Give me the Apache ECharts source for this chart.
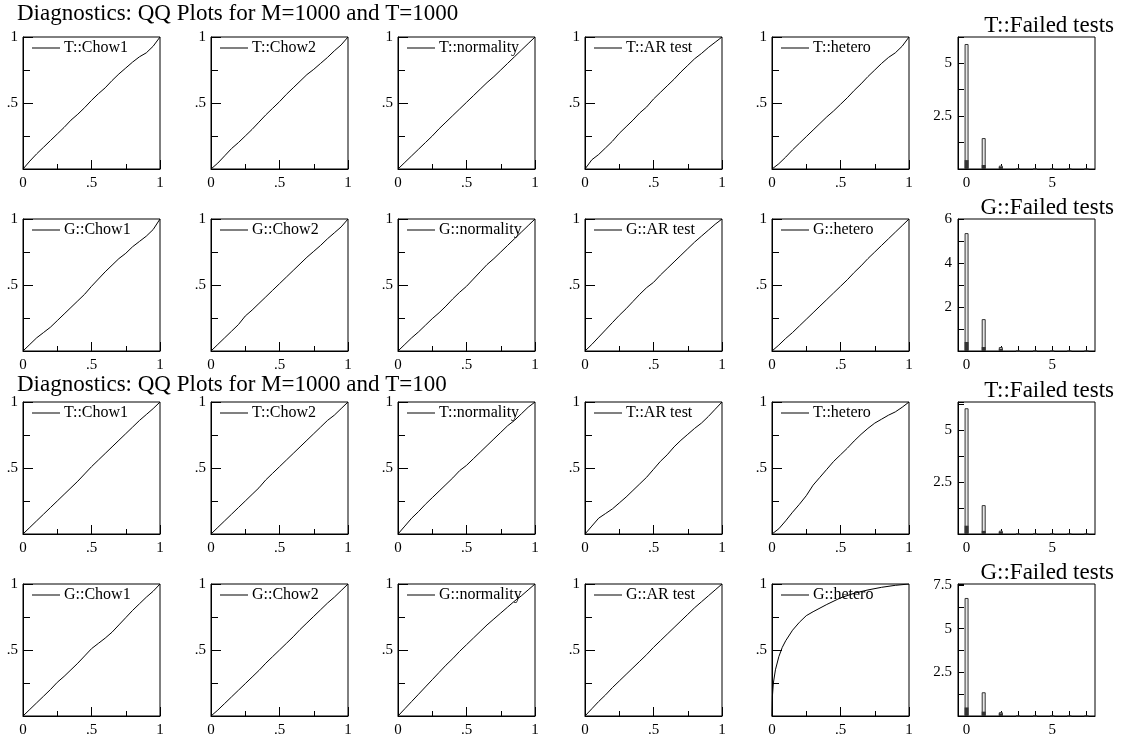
<!DOCTYPE html>
<html>
<head>
<meta charset="utf-8">
<script src="https://cdn.jsdelivr.net/npm/echarts@6/dist/echarts.min.js"></script>
<style>
html,body{margin:0;padding:0;background:#fff;}
#chart{width:1122px;height:740px;}
</style>
</head>
<body>
<div id="chart"></div>
<script>
// ---------- DATA ----------
var pageTitles = ['Diagnostics: QQ Plots for M=1000 and T=1000', 'Diagnostics: QQ Plots for M=1000 and T=100'];
var histTitles = ['T::Failed tests', 'G::Failed tests', 'T::Failed tests', 'G::Failed tests'];
var qqNames = [
  ['T::Chow1', 'T::Chow2', 'T::normality', 'T::AR test', 'T::hetero'],
  ['G::Chow1', 'G::Chow2', 'G::normality', 'G::AR test', 'G::hetero'],
  ['T::Chow1', 'T::Chow2', 'T::normality', 'T::AR test', 'T::hetero'],
  ['G::Chow1', 'G::Chow2', 'G::normality', 'G::AR test', 'G::hetero']
];
var qqProbs = [0, 0.05, 0.1, 0.15, 0.2, 0.25, 0.3, 0.35, 0.4, 0.45, 0.5, 0.55, 0.6, 0.65, 0.7, 0.75, 0.8, 0.85, 0.9, 0.95, 1];

// Row 1: M=1000, T=1000, T:: tests
var r1Chow1  = [0, .06, .115, .165, .215, .265, .315, .37, .415, .465, .52, .57, .615, .67, .72, .765, .81, .85, .88, .93, 1];
var r1Chow2  = [0, .045, .1, .155, .2, .25, .3, .355, .41, .46, .51, .565, .615, .665, .715, .755, .8, .845, .895, .94, 1];
var r1Normal = [0, .05, .1, .15, .2, .25, .305, .355, .405, .455, .505, .555, .605, .655, .7, .75, .8, .85, .9, .95, 1];
var r1AR     = [0, .07, .11, .16, .21, .27, .32, .37, .425, .47, .53, .58, .63, .68, .735, .785, .835, .875, .92, .96, 1];
var r1Hetero = [0, .04, .09, .145, .195, .245, .295, .345, .395, .44, .49, .54, .595, .645, .7, .75, .8, .845, .88, .93, 1];
// Row 2: M=1000, T=1000, G:: tests
var r2Chow1  = [0, .05, .1, .14, .18, .23, .28, .33, .38, .43, .49, .545, .6, .65, .7, .74, .79, .83, .87, .92, 1];
var r2Chow2  = [0, .05, .1, .15, .2, .265, .31, .36, .41, .46, .51, .56, .61, .66, .71, .755, .8, .85, .895, .94, 1];
var r2Normal = [0, .05, .1, .145, .195, .245, .29, .34, .395, .445, .49, .545, .6, .655, .7, .75, .8, .85, .9, .95, 1];
var r2AR     = [0, .05, .105, .16, .215, .27, .32, .375, .43, .48, .52, .575, .625, .675, .725, .775, .825, .87, .915, .96, 1];
var r2Hetero = [0, .045, .095, .14, .19, .24, .29, .34, .39, .44, .49, .54, .595, .645, .7, .75, .8, .85, .9, .95, 1];
// Row 3: M=1000, T=100, T:: tests
var r3Chow1  = [0, .05, .1, .15, .2, .25, .3, .35, .4, .455, .51, .56, .61, .66, .71, .76, .81, .86, .905, .95, 1];
var r3Chow2  = [0, .05, .1, .15, .2, .25, .3, .35, .41, .46, .51, .56, .61, .66, .71, .76, .81, .86, .9, .95, 1];
var r3Normal = [0, .06, .12, .17, .225, .275, .325, .375, .425, .48, .52, .57, .62, .67, .72, .77, .82, .86, .91, .96, 1];
var r3AR     = [0, .06, .12, .155, .19, .235, .28, .33, .38, .43, .49, .55, .6, .66, .71, .755, .8, .84, .89, .945, 1];
var r3Hetero = [0, .04, .1, .165, .225, .29, .37, .43, .49, .55, .6, .65, .705, .755, .8, .84, .87, .9, .925, .96, 1];
// Row 4: M=1000, T=100, G:: tests
var r4Chow1  = [0, .05, .1, .15, .2, .255, .3, .35, .4, .455, .51, .55, .59, .635, .69, .745, .8, .85, .9, .945, 1];
var r4Chow2  = [0, .045, .095, .145, .195, .245, .295, .345, .4, .45, .5, .55, .6, .655, .705, .755, .805, .855, .9, .95, 1];
var r4Normal = [0, .055, .11, .165, .22, .275, .33, .385, .435, .49, .54, .59, .64, .69, .735, .78, .825, .87, .91, .955, 1];
var r4AR     = [0, .055, .11, .16, .215, .265, .315, .365, .415, .465, .52, .57, .62, .67, .72, .77, .82, .865, .91, .955, 1];
var r4HeteroProbs = [0, 0.003, 0.01, 0.025, 0.05, 0.075, 0.1, 0.15, 0.2, 0.25, 0.3, 0.4, 0.5, 0.6, 0.7, 0.8, 0.9, 1];
var r4Hetero      = [0, 0.15, 0.25, 0.35, 0.45, 0.52, 0.57, 0.65, 0.71, 0.76, 0.79, 0.845, 0.895, 0.93, 0.955, 0.975, 0.99, 1];

// Failed tests histograms
var failCats = ['0', '1', '2', '3', '4', '5', '6', '7'];
var failT1 = [5.9, 1.46, 0.16, 0, 0, 0, 0, 0];
var failT1Low = [0.42, 0.19, 0.1, 0, 0, 0, 0, 0];
var failG1 = [5.36, 1.45, 0.18, 0, 0, 0, 0, 0];
var failG1Low = [0.41, 0.18, 0.1, 0, 0, 0, 0, 0];
var failT2 = [6.05, 1.39, 0.16, 0, 0, 0, 0, 0];
var failT2Low = [0.4, 0.15, 0.1, 0, 0, 0, 0, 0];
var failG2 = [6.76, 1.36, 0.22, 0, 0, 0, 0, 0];
var failG2Low = [0.49, 0.25, 0.15, 0, 0, 0, 0, 0];
var histYMax = [6.23, 6, 6.35, 7.56];
var histYStep = [1.25, 1, 1.25, 1.25];
var histYLabelStep = [2.5, 2, 2.5, 2.5];

// ---------- LAYOUT ----------
var colLeft = [23, 211, 398, 585, 772, 958];
var rowTop = [37, 219, 402, 584];
var boxW = 137, boxH = 132;
var FONT = 'Liberation Serif';
var TICKFS = 15;

var qqRows = [
  [r1Chow1, r1Chow2, r1Normal, r1AR, r1Hetero],
  [r2Chow1, r2Chow2, r2Normal, r2AR, r2Hetero],
  [r3Chow1, r3Chow2, r3Normal, r3AR, r3Hetero],
  [r4Chow1, r4Chow2, r4Normal, r4AR, r4Hetero]
];
var histRows = [[failT1, failT1Low], [failG1, failG1Low], [failT2, failT2Low], [failG2, failG2Low]];

var grids = [], xAxes = [], yAxes = [], series = [], legends = [], titles = [];

function fmtQQ(v) {
  if (Math.abs(v - 0.5) < 1e-9) return '.5';
  if (Math.abs(v - 1) < 1e-9) return '1';
  if (Math.abs(v) < 1e-9) return '0';
  return '';
}

var gi = 0;
for (var r = 0; r < 4; r++) {
  for (var c = 0; c < 6; c++) {
    grids.push({
      left: colLeft[c], top: rowTop[r], width: boxW, height: boxH,
      show: true, borderColor: '#000', borderWidth: 1, backgroundColor: 'transparent'
    });
    if (c < 5) {
      xAxes.push({
        gridIndex: gi, type: 'value', min: 0, max: 1, interval: 0.5,
        axisLine: {show: true, onZero: false, lineStyle: {color: '#000', width: 1}},
        axisTick: {show: true, inside: true, length: 9, lineStyle: {color: '#000'}},
        minorTick: {show: true, splitNumber: 2, length: 5, lineStyle: {color: '#000'}},
        splitLine: {show: false},
        axisLabel: {color: '#000', fontFamily: FONT, fontSize: TICKFS, margin: 7, formatter: fmtQQ}
      });
      yAxes.push({
        gridIndex: gi, type: 'value', min: 0, max: 1, interval: 0.5,
        axisLine: {show: true, onZero: false, lineStyle: {color: '#000', width: 1}},
        axisTick: {show: true, inside: true, length: 10, lineStyle: {color: '#000'}},
        minorTick: {show: true, splitNumber: 2, length: 7, lineStyle: {color: '#000'}},
        splitLine: {show: false},
        axisLabel: {color: '#000', fontFamily: FONT, fontSize: TICKFS, margin: 5,
          formatter: function (v) { return v === 0 ? '' : fmtQQ(v); }}
      });
      var probs = (r === 3 && c === 4) ? r4HeteroProbs : qqProbs;
      var ys = qqRows[r][c];
      series.push({
        name: qqNames[r][c], type: 'line', xAxisIndex: gi, yAxisIndex: gi,
        showSymbol: false, symbol: 'none', color: '#000',
        lineStyle: {color: '#000', width: 1}, animation: false, silent: true,
        data: probs.map(function (p, i) { return [p, ys[i]]; })
      });
      legends.push({
        data: [qqNames[r][c]], left: colLeft[c] + 9, top: rowTop[r] + 3,
        icon: 'rect', itemWidth: 28, itemHeight: 1, itemGap: 4, padding: 0,
        selectedMode: false,
        textStyle: {fontFamily: FONT, fontSize: 16, color: '#000', padding: [0, 0, 0, -1]}
      });
    } else {
      var step = histYStep[r], lstep = histYLabelStep[r];
      xAxes.push({
        gridIndex: gi, type: 'category', data: failCats, boundaryGap: true,
        axisLine: {show: true, onZero: false, lineStyle: {color: '#000', width: 1}},
        axisTick: {show: true, inside: true, length: 5, alignWithLabel: true, interval: 0, lineStyle: {color: '#000'}},
        splitLine: {show: false},
        axisLabel: {color: '#000', fontFamily: FONT, fontSize: TICKFS, margin: 7, interval: 0,
          formatter: function (v) { return (v === '0' || v === '5') ? v : ''; }}
      });
      yAxes.push({
        gridIndex: gi, type: 'value', min: 0, max: histYMax[r], interval: step,
        axisLine: {show: true, onZero: false, lineStyle: {color: '#000', width: 1}},
        axisTick: {show: true, inside: true, length: 6, lineStyle: {color: '#000'}},
        splitLine: {show: false},
        axisLabel: {color: '#000', fontFamily: FONT, fontSize: TICKFS, margin: 6, showMaxLabel: true,
          formatter: (function (ls) {
            return function (v) {
              if (v <= 0) return '';
              var k = v / ls;
              if (Math.abs(k - Math.round(k)) > 1e-6) return '';
              return String(v);
            };
          })(lstep)}
      });
      series.push({
        name: histTitles[r], type: 'bar', xAxisIndex: gi, yAxisIndex: gi,
        barWidth: 4, animation: false, silent: true,
        itemStyle: {color: '#e6e6e6', borderColor: '#333', borderWidth: 1},
        data: histRows[r][0]
      });
      series.push({
        name: histTitles[r] + ' low', type: 'bar', xAxisIndex: gi, yAxisIndex: gi,
        barWidth: 4, barGap: '-100%', animation: false, silent: true,
        itemStyle: {color: '#333'},
        data: histRows[r][1]
      });
    }
    gi++;
  }
}

titles.push({text: pageTitles[0], left: 17, top: 2, padding: 0,
  textStyle: {fontFamily: FONT, fontWeight: 'normal', fontSize: 23, color: '#000'}});
titles.push({text: pageTitles[1], left: 17, top: 373, padding: 0,
  textStyle: {fontFamily: FONT, fontWeight: 'normal', fontSize: 23, color: '#000'}});
for (var h = 0; h < 4; h++) {
  titles.push({text: histTitles[h], right: 8, top: rowTop[h] - 23, padding: 0,
    textStyle: {fontFamily: FONT, fontWeight: 'normal', fontSize: 23, color: '#000'}});
}

var chart = echarts.init(document.getElementById('chart'), null, {renderer: 'canvas'});
chart.setOption({
  backgroundColor: '#fff',
  animation: false,
  textStyle: {fontFamily: FONT},
  title: titles,
  legend: legends,
  grid: grids,
  xAxis: xAxes,
  yAxis: yAxes,
  series: series
});
</script>
</body>
</html>
